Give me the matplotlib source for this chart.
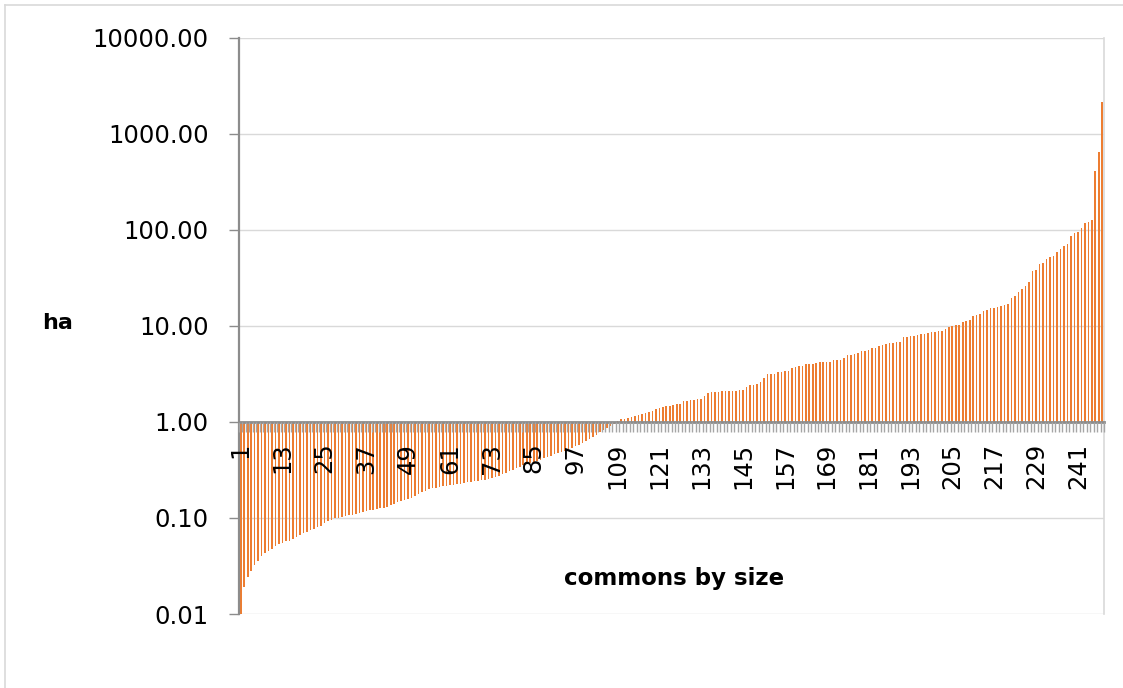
import numpy as np
import matplotlib
matplotlib.use('Agg')
import matplotlib.pyplot as plt
from matplotlib.lines import Line2D
from matplotlib.ticker import FixedLocator, FuncFormatter

# commons sorted by size (ha)
below_one = [
    0.010, 0.019, 0.024, 0.028, 0.032, 0.036, 0.040, 0.043, 0.045, 0.048,
    0.051, 0.053, 0.055, 0.057, 0.058, 0.060, 0.063, 0.066, 0.069, 0.071,
    0.074, 0.077, 0.080, 0.083, 0.088, 0.092, 0.096, 0.099, 0.101, 0.102,
    0.104, 0.106, 0.108, 0.110, 0.112, 0.114, 0.117, 0.120, 0.122, 0.124,
    0.126, 0.128, 0.131, 0.135, 0.140, 0.145, 0.150, 0.154, 0.158, 0.163,
    0.170, 0.178, 0.185, 0.192, 0.198, 0.203, 0.207, 0.210, 0.213, 0.216,
    0.219, 0.222, 0.225, 0.228, 0.231, 0.234, 0.237, 0.240, 0.243, 0.247,
    0.251, 0.256, 0.262, 0.268, 0.275, 0.284, 0.295, 0.306, 0.318, 0.330,
    0.342, 0.352, 0.362, 0.372, 0.382, 0.393, 0.405, 0.418, 0.432, 0.446,
    0.460, 0.474, 0.488, 0.502, 0.518, 0.536, 0.556, 0.578, 0.602, 0.630,
    0.660, 0.695, 0.735, 0.780, 0.825, 0.870, 0.915, 0.950,
]
above_one = [
    1.02, 1.06, 1.08, 1.10, 1.13, 1.16, 1.19, 1.22, 1.25, 1.27,
    1.29, 1.36, 1.40, 1.43, 1.45, 1.47, 1.49, 1.52, 1.55, 1.64,
    1.66, 1.68, 1.69, 1.72, 1.74, 1.86, 2.01, 2.03, 2.05, 2.06,
    2.07, 2.08, 2.09, 2.10, 2.11, 2.13, 2.15, 2.29, 2.42, 2.44,
    2.47, 2.62, 2.88, 3.12, 3.15, 3.18, 3.30, 3.34, 3.38, 3.41,
    3.60, 3.75, 3.80, 3.84, 3.97, 4.00, 4.03, 4.06, 4.16, 4.18,
    4.20, 4.22, 4.38, 4.40, 4.42, 4.58, 4.96, 5.02, 5.08, 5.20,
    5.40, 5.50, 5.60, 5.80, 5.90, 6.15, 6.35, 6.50, 6.55, 6.62,
    6.70, 6.75, 7.60, 7.70, 7.80, 7.90, 8.00, 8.20, 8.30, 8.40,
    8.55, 8.65, 8.80, 8.90, 9.20, 9.80, 9.95, 10.1, 10.2, 11.0,
    11.3, 11.5, 12.6, 13.0, 13.2, 14.3, 14.6, 15.3, 15.4, 15.6,
    15.9, 16.3, 16.8, 19.3, 20.5, 22.2, 24.1, 26.1, 28.3, 37.4,
    38.4, 43.9, 44.9, 49.5, 52.4, 53.6, 58.0, 63.0, 68.0, 71.0,
    86.6, 91.6, 94.0, 104.0, 117.0, 121.0, 126.0, 412.0, 648.0, 2120.0,
]
hectares = np.array(below_one + above_one)
commons = np.arange(1, len(hectares) + 1)
label_every = 12
y_ticks = [0.01, 0.1, 1, 10, 100, 1000, 10000]

bar_color = '#ED7D31'
axis_gray = '#8C8C8C'
light_gray = '#D9D9D9'

W, H = 1123, 688
fig = plt.figure(figsize=(W / 100, H / 100), dpi=100)
ax = fig.add_axes([239 / W, 1 - 614 / H, (1104 - 239) / W, (614 - 37.5) / H])
ax.set_axisbelow(False)  # tick labels sit on top of the bars

# gridlines behind everything
for yv in y_ticks:
    ax.axhline(yv, color=light_gray, linewidth=1, zorder=0.5)

# bars hang from the 1.00 baseline (up or down)
ax.bar(commons, hectares - 1, bottom=1, width=0.45, color=bar_color,
       linewidth=0, zorder=2)

ax.set_yscale('log')
ax.set_ylim(0.01, 10000)
ax.set_xlim(0.5, len(hectares) + 0.5)

ax.yaxis.set_major_locator(FixedLocator(y_ticks))
ax.yaxis.set_minor_locator(FixedLocator([]))
ax.yaxis.set_major_formatter(FuncFormatter(lambda v, p: f'{v:.2f}'))
ax.tick_params(axis='y', which='major', direction='out', length=7,
               color=axis_gray, width=1, pad=15, labelsize=17.5)

# category axis crosses at 1.00
ax.spines['bottom'].set_position(('data', 1))
ax.spines['bottom'].set_color(axis_gray)
ax.spines['bottom'].set_linewidth(2)
ax.spines['left'].set_color(axis_gray)
ax.spines['left'].set_linewidth(1.6)
ax.spines['right'].set_color(light_gray)
ax.spines['right'].set_linewidth(1.2)
ax.spines['top'].set_visible(False)

ax.set_xticks(commons[::label_every])
ax.set_xticklabels([str(c) for c in commons[::label_every]], rotation=90)
ax.xaxis.set_minor_locator(FixedLocator(np.arange(0.5, len(hectares) + 1, 1)))
ax.tick_params(axis='x', which='major', length=0, pad=15, labelsize=17.5)
ax.tick_params(axis='x', which='minor', direction='out', length=7,
               color='#A6A6A6', width=1)

fig.text(58 / W, 1 - 323 / H, 'ha', fontsize=16, fontweight='bold',
         ha='center', va='center')
fig.text(674 / W, 1 - 579 / H, 'commons by size', fontsize=16.5,
         fontweight='bold', ha='center', va='center')

# chart area border
fig.add_artist(Line2D([5 / W, 1], [1 - 4.5 / H, 1 - 4.5 / H],
                      color=light_gray, linewidth=1.2))
fig.add_artist(Line2D([5 / W, 5 / W], [0, 1 - 4.5 / H],
                      color=light_gray, linewidth=1.2))

fig.savefig('out.png', dpi=100)
